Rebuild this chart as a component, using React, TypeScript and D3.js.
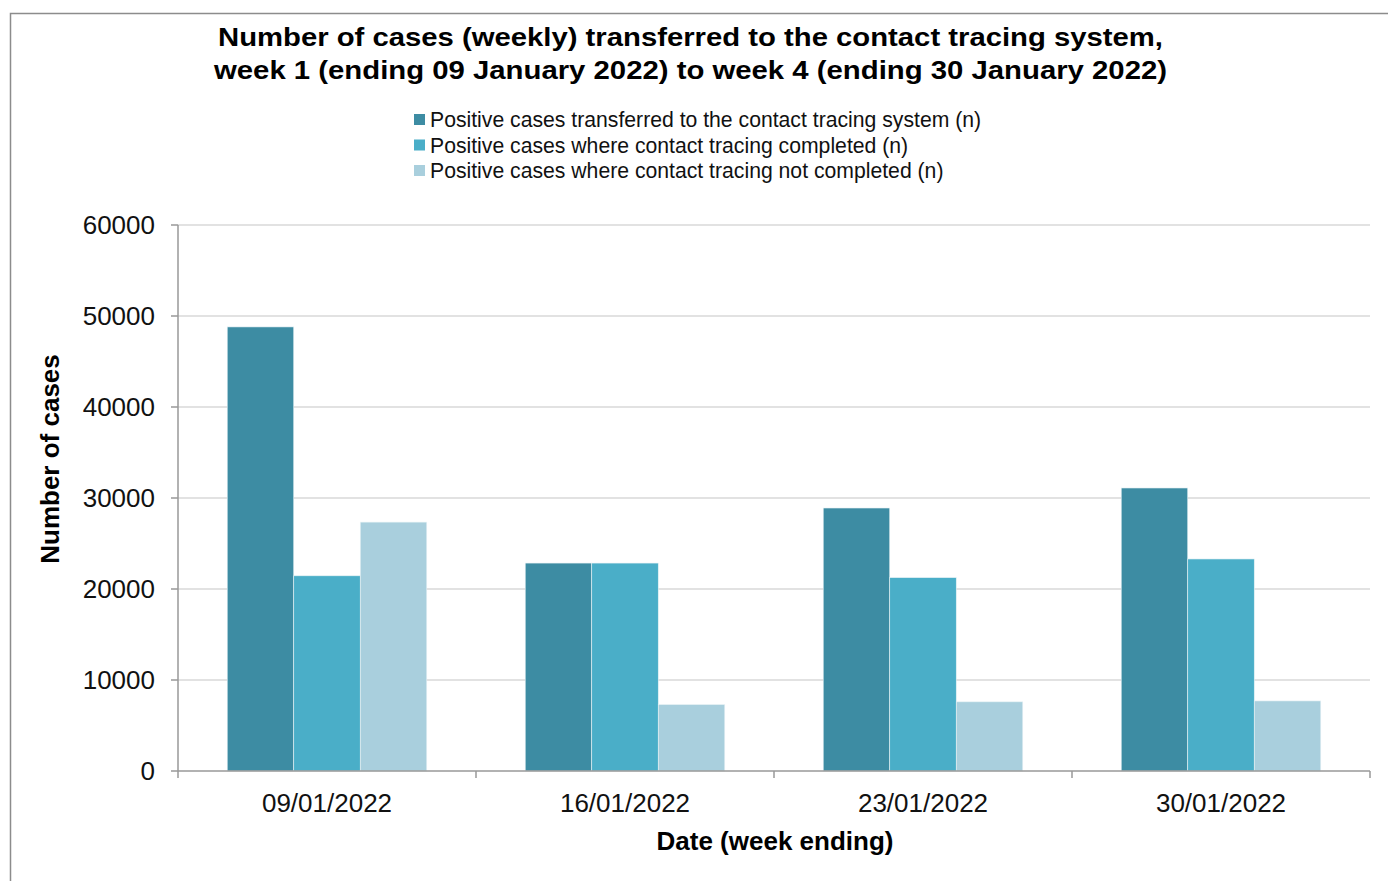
import React from "react";
import * as d3 from "d3";

const categories = ["09/01/2022", "16/01/2022", "23/01/2022", "30/01/2022"];
const seriesNames = [
  "Positive cases transferred to the contact tracing system (n)",
  "Positive cases where contact tracing completed (n)",
  "Positive cases where contact tracing not completed (n)",
];
const transferred = [48800, 22850, 28900, 31100];
const completed = [21450, 22850, 21250, 23300];
const notCompleted = [27350, 7300, 7600, 7700];
const yTicks = [0, 10000, 20000, 30000, 40000, 50000, 60000];
const colors = ["#3d8ca3", "#4aaec8", "#a9cfdd"];

const W = 1388;
const H = 881;
const left = 178;
const right = 1370;
const top = 225;
const bottom = 771;
const font = "Liberation Sans, Arial, sans-serif";

export default function App() {
  const series = [transferred, completed, notCompleted];
  const x = d3.scaleBand<string>().domain(categories).range([left, right]).paddingInner(0).paddingOuter(0);
  const inner = d3
    .scaleBand<number>()
    .domain([0, 1, 2])
    .range([0, x.bandwidth()])
    .paddingOuter(0.74)
    .paddingInner(0);
  const y = d3.scaleLinear().domain([0, 60000]).range([bottom, top]);

  const boundaries = [...categories.map((c) => x(c)!), right];

  return (
    <svg width={W} height={H} style={{ position: "absolute", left: 0, top: 0 }}>
      <rect x={0} y={0} width={W} height={H} fill="#fff" />
      <path d={`M10.5,${H} L10.5,13.5 L${W},13.5`} fill="none" stroke="#8c8c8c" strokeWidth={1.5} />
      <text x={218} y={46} textLength={945} lengthAdjust="spacingAndGlyphs" fontFamily={font} fontWeight="bold" fontSize={25}>
        Number of cases (weekly) transferred to the contact tracing system,
      </text>
      <text x={214} y={79} textLength={953} lengthAdjust="spacingAndGlyphs" fontFamily={font} fontWeight="bold" fontSize={25}>
        week 1 (ending 09 January 2022) to week 4 (ending 30 January 2022)
      </text>
      {seriesNames.map((n, i) => (
        <g key={n}>
          <rect x={414} y={114 + i * 25.5} width={11} height={11} fill={colors[i]} />
          <text x={430} y={127 + i * 25.5} fontFamily={font} fontSize={21.2} fill="#111">
            {n}
          </text>
        </g>
      ))}
      {yTicks.map((t) => (
        <g key={t}>
          {t > 0 && <line x1={left} x2={right} y1={y(t)} y2={y(t)} stroke="#d9d9d9" strokeWidth={1.5} />}
          <line x1={left - 7} x2={left} y1={y(t)} y2={y(t)} stroke="#999" strokeWidth={1.5} />
          <text x={155} y={y(t) + 9} textAnchor="end" fontFamily={font} fontSize={26} fill="#111">
            {t}
          </text>
        </g>
      ))}
      {categories.map((c, ci) =>
        series.map((s, si) => (
          <rect
            key={c + si}
            x={x(c)! + inner(si)!}
            y={y(s[ci])}
            width={inner.bandwidth()}
            height={bottom - y(s[ci])}
            fill={colors[si]}
            stroke="#e8f2f5"
            strokeWidth={0.6}
          />
        ))
      )}
      <line x1={left} x2={left} y1={top} y2={bottom} stroke="#999" strokeWidth={1.5} />
      <line x1={left} x2={right} y1={bottom} y2={bottom} stroke="#999" strokeWidth={1.5} />
      {boundaries.map((b, i) => (
        <line key={i} x1={b} x2={b} y1={bottom} y2={bottom + 7} stroke="#999" strokeWidth={1.5} />
      ))}
      {categories.map((c) => (
        <text
          key={c}
          x={x(c)! + x.bandwidth() / 2}
          y={812}
          textAnchor="middle"
          fontFamily={font}
          fontSize={26}
          fill="#111"
        >
          {c}
        </text>
      ))}
      <text x={775} y={850} textAnchor="middle" fontFamily={font} fontWeight="bold" fontSize={26}>
        Date (week ending)
      </text>
      <text
        transform={`translate(59,459) rotate(-90)`}
        textAnchor="middle"
        fontFamily={font}
        fontWeight="bold"
        fontSize={26}
      >
        Number of cases
      </text>
    </svg>
  );
}
